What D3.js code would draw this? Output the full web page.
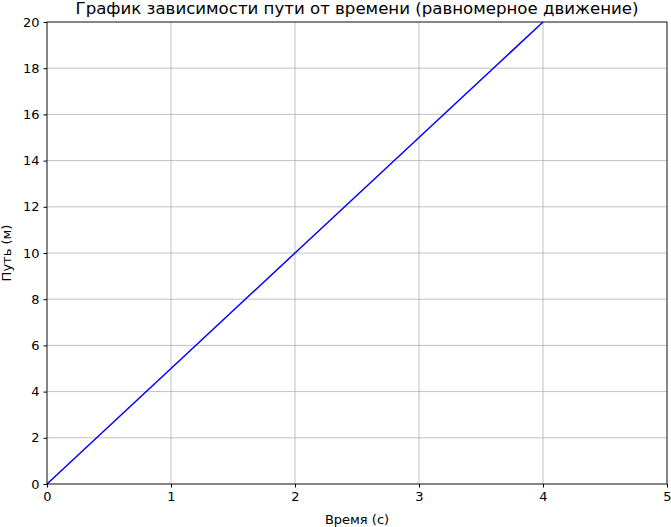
<!DOCTYPE html>
<html><head><meta charset="utf-8">
<script src="https://cdn.jsdelivr.net/npm/d3@7"></script>
<style>body{margin:0;background:#fff}text{font-family:"DejaVu Sans",sans-serif}</style>
</head><body>
<svg id="chart" width="671" height="527"></svg>
<script>
// data
const times = [0, 1, 2, 3, 4];
const distances = [0, 5, 10, 15, 20];
const xTicks = [0, 1, 2, 3, 4, 5];
const yTicks = [0, 2, 4, 6, 8, 10, 12, 14, 16, 18, 20];

const svg = d3.select("#chart");
const m = {left: 47, right: 667, top: 22, bottom: 484};
const x = d3.scaleLinear().domain([0, 5]).range([m.left, m.right]);
const y = d3.scaleLinear().domain([0, 20]).range([m.bottom, m.top]);

// grid
svg.append("g").selectAll("line").data(xTicks).join("line")
  .attr("x1", d => x(d)).attr("x2", d => x(d)).attr("y1", m.top).attr("y2", m.bottom)
  .attr("stroke", "#b0b0b0").attr("stroke-width", 0.8);
svg.append("g").selectAll("line").data(yTicks).join("line")
  .attr("y1", d => y(d)).attr("y2", d => y(d)).attr("x1", m.left).attr("x2", m.right)
  .attr("stroke", "#b0b0b0").attr("stroke-width", 0.8);

// line
svg.append("path").datum(times.map((t, i) => [t, distances[i]]))
  .attr("fill", "none").attr("stroke", "blue").attr("stroke-width", 1.5)
  .attr("d", d3.line().x(d => x(d[0])).y(d => y(d[1])));

// axes
const xa = svg.append("g").attr("transform", `translate(0,${m.bottom})`)
  .call(d3.axisBottom(x).tickValues(xTicks).tickSize(3.5).tickPadding(4).tickFormat(d3.format("d")));
const ya = svg.append("g").attr("transform", `translate(${m.left},0)`)
  .call(d3.axisLeft(y).tickValues(yTicks).tickSize(3.5).tickPadding(4).tickFormat(d3.format("d")));
[xa, ya].forEach(a => {
  a.selectAll("text").attr("font-size", 13).attr("fill", "#000").style("font-family", "DejaVu Sans");
  a.selectAll("line").attr("stroke", "#000");
  a.select(".domain").remove();
});
svg.append("rect").attr("x", m.left).attr("y", m.top)
  .attr("width", m.right - m.left).attr("height", m.bottom - m.top)
  .attr("fill", "none").attr("stroke", "#000").attr("stroke-width", 0.8);

// labels
svg.append("text").attr("x", (m.left + m.right) / 2).attr("y", 14)
  .attr("text-anchor", "middle").attr("font-size", 16.6).text("График зависимости пути от времени (равномерное движение)");
svg.append("text").attr("x", (m.left + m.right) / 2).attr("y", 524)
  .attr("text-anchor", "middle").attr("font-size", 13).text("Время (с)");
svg.append("text").attr("transform", `translate(11,${(m.top + m.bottom) / 2}) rotate(-90)`)
  .attr("text-anchor", "middle").attr("font-size", 13).text("Путь (м)");
</script>
</body></html>
